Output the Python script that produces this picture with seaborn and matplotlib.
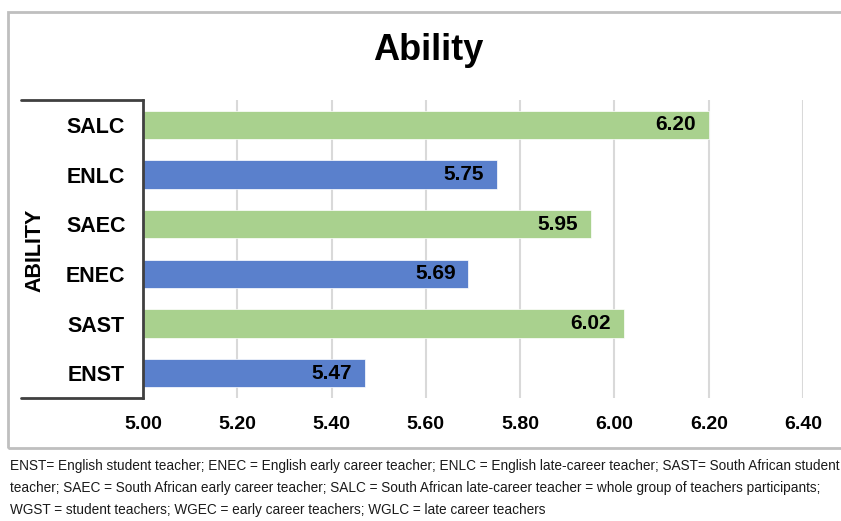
import matplotlib
matplotlib.use("Agg")
import matplotlib.pyplot as plt
from matplotlib.lines import Line2D
from matplotlib.patches import Rectangle
import seaborn as sns
import pandas as pd

# Chart data
categories = ["SALC", "ENLC", "SAEC", "ENEC", "SAST", "ENST"]
values = [6.20, 5.75, 5.95, 5.69, 6.02, 5.47]
bar_colors = ["#A9D18E", "#5A80CC", "#A9D18E", "#5A80CC", "#A9D18E", "#5A80CC"]
x_ticks = [5.00, 5.20, 5.40, 5.60, 5.80, 6.00, 6.20, 6.40]
title = "Ability"
axis_label = "ABILITY"
footnote = [
    "ENST= English student teacher; ENEC = English early career teacher; ENLC = English late-career teacher; SAST= South African student",
    "teacher; SAEC = South African early career teacher; SALC = South African late-career teacher = whole group of teachers participants;",
    "WGST = student teachers; WGEC = early career teachers; WGLC = late career teachers",
]

sns.set_theme(style="white")
plt.rcParams["font.family"] = ["Liberation Sans", "DejaVu Sans"]
plt.rcParams["text.color"] = "black"

W, H = 841, 521
fig = plt.figure(figsize=(W / 100, H / 100), dpi=100)

def fx(px):
    return px / W

def fy(py):
    return 1 - py / H

# outer frame
fig.patches.append(Rectangle((fx(8), fy(448)), fx(860) - fx(8), fy(12) - fy(448),
                             transform=fig.transFigure, fill=False,
                             edgecolor="#BFBFBF", linewidth=2, zorder=0))

left, right, top, bottom = 143, 803, 100, 398
ax = fig.add_axes([fx(left), fy(bottom), fx(right) - fx(left), fy(top) - fy(bottom)])

df = pd.DataFrame({"category": categories, "value": values})
sns.barplot(data=df, y="category", x="value", hue="category", order=categories,
            palette=dict(zip(categories, bar_colors)), saturation=1, legend=False,
            width=0.57, edgecolor="white", linewidth=0.5, ax=ax, zorder=3)

ax.set_xlim(5.0, 6.4)
ax.set_xticks(x_ticks)
ax.set_xticklabels([f"{t:.2f}" for t in x_ticks], fontweight="bold", fontsize=14)
ax.tick_params(axis="x", length=0, pad=13, colors="black")
ax.tick_params(axis="y", length=0, pad=34)
for lbl in ax.get_yticklabels():
    lbl.set_fontweight("bold")
    lbl.set_fontsize(15.5)
    lbl.set_horizontalalignment("center")
    lbl.set_color("black")
ax.set_xlabel("")
ax.set_ylabel("")
ax.grid(axis="x", color="#D9D9D9", linewidth=1.5, zorder=0)
ax.grid(axis="y", visible=False)
for side in ["top", "right", "bottom"]:
    ax.spines[side].set_visible(False)
ax.spines["left"].set_color("#404040")
ax.spines["left"].set_linewidth(2)
ax.spines["left"].set_zorder(5)

# value labels at the bar ends
for i, v in enumerate(values):
    ax.annotate(f"{v:.2f}", xy=(v, i), xytext=(-9, 0), textcoords="offset points",
                ha="right", va="center", fontsize=15, fontweight="bold",
                color="black", zorder=6)

# bracket around the category labels
for py in (top, bottom):
    fig.lines.append(Line2D([fx(21), fx(left)], [fy(py), fy(py)],
                            transform=fig.transFigure, color="#404040", linewidth=2))

fig.text(fx(35), fy(250), axis_label, rotation=90, ha="center", va="center",
         fontsize=15.5, fontweight="bold", color="black")
fig.text(fx(428), fy(51), title, ha="center", va="center",
         fontsize=26, fontweight="bold", color="black")

for k, line in enumerate(footnote):
    fig.text(fx(10), fy(466 + 22 * k), line, ha="left", va="center",
             fontsize=9.8, color="#1A1A1A")

fig.savefig("out.png", dpi=100, facecolor="white")
